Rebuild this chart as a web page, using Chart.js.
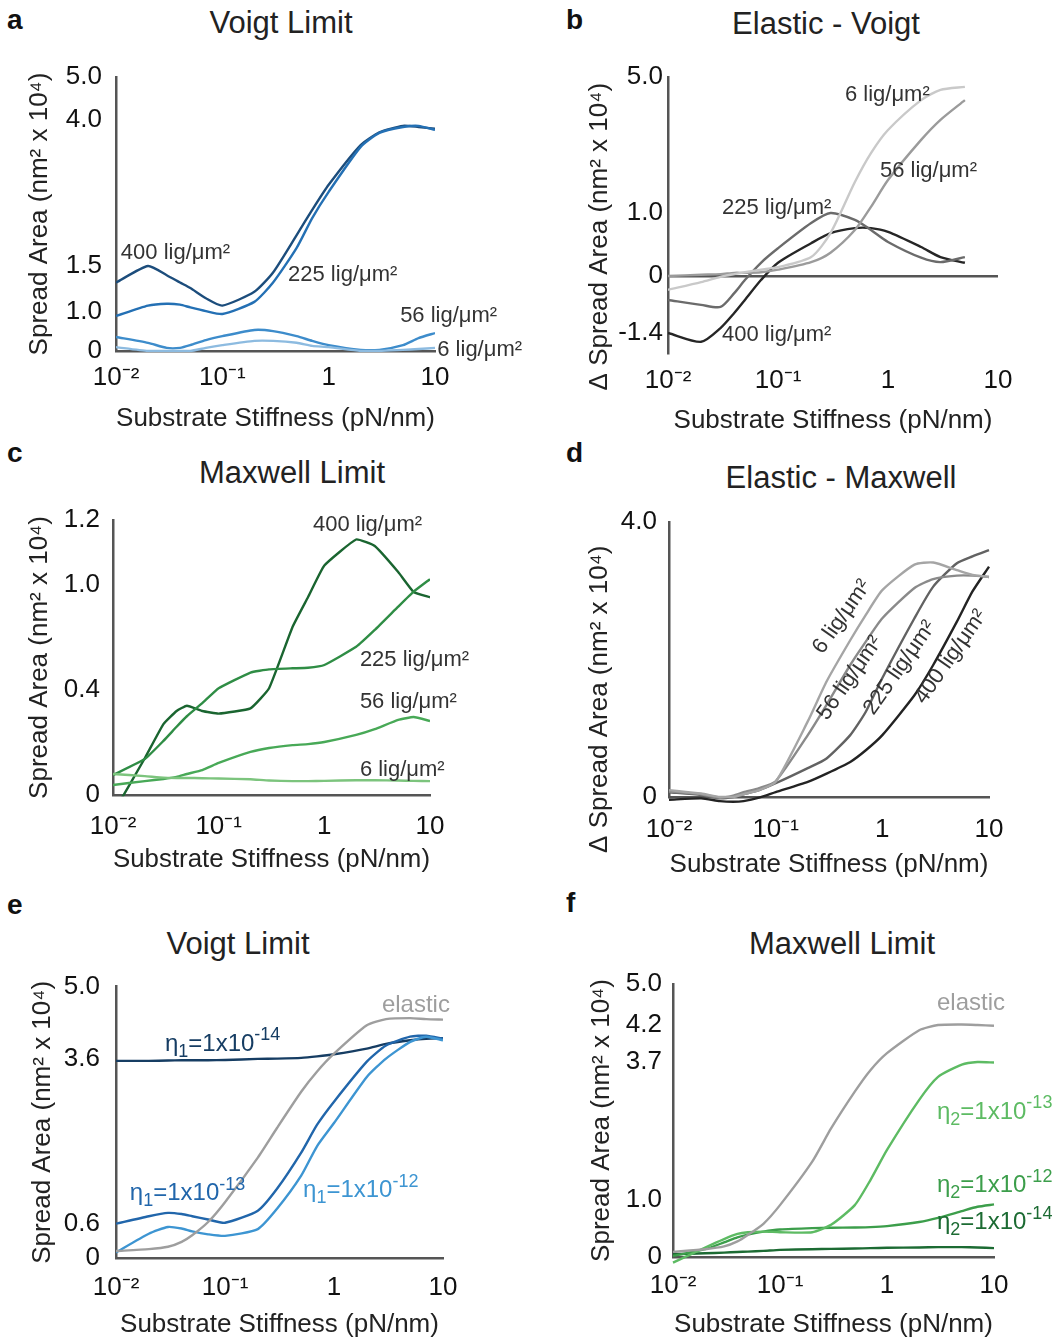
<!DOCTYPE html>
<html><head><meta charset="utf-8">
<script src="https://cdn.jsdelivr.net/npm/chart.js@4.4.1/dist/chart.umd.min.js"></script>
<style>
html,body{margin:0;padding:0;background:#fff;}
#wrap{position:relative;width:1057px;height:1340px;overflow:hidden;font-family:'Liberation Sans',Arial,Helvetica,sans-serif;}
canvas{position:absolute;}
.lt{position:absolute;font-weight:bold;font-size:28px;color:#111;transform:translateY(-50%);line-height:1;}
.tt{position:absolute;font-size:31px;color:#222;transform:translate(-50%,-50%);white-space:nowrap;line-height:1;}
</style></head><body><div id="wrap">
<div class="lt" style="left:7px;top:20px">a</div>
<div class="tt" style="left:281px;top:22px">Voigt Limit</div>
<div class="lt" style="left:566px;top:20px">b</div>
<div class="tt" style="left:826px;top:23px">Elastic - Voigt</div>
<div class="lt" style="left:7px;top:453px">c</div>
<div class="tt" style="left:292px;top:472px">Maxwell Limit</div>
<div class="lt" style="left:566px;top:453px">d</div>
<div class="tt" style="left:841px;top:477px">Elastic - Maxwell</div>
<div class="lt" style="left:7px;top:905px">e</div>
<div class="tt" style="left:238px;top:943px">Voigt Limit</div>
<div class="lt" style="left:566px;top:903px">f</div>
<div class="tt" style="left:842px;top:943px">Maxwell Limit</div>
<canvas id="ca"></canvas><canvas id="cb"></canvas><canvas id="cc"></canvas>
<canvas id="cd"></canvas><canvas id="ce"></canvas><canvas id="cf"></canvas>
</div>
<script>
// ---------------- DATA ----------------
const X = [0.01,0.02,0.03,0.04,0.05,0.07,0.1,0.2,0.3,0.5,0.7,1,2,3,5,7,10];
const X_TICKS = [0.01, 0.1, 1, 10];
const X_TICK_LABELS = ['10⁻²','10⁻¹','1','10'];

// a: Voigt limit, ligand densities
const A_Y_TICKS = [0, 1.0, 1.5, 4.0, 5.0];
const A_400 = [1.32,1.50,1.40,1.32,1.26,1.15,1.07,1.22,1.43,2.03,2.46,2.89,3.57,3.79,3.90,3.88,3.85];
const A_225 = [0.90,1.07,1.09,1.08,1.05,1.01,0.95,1.11,1.32,1.81,2.32,2.77,3.54,3.78,3.88,3.90,3.83];
const A_56  = [0.36,0.21,0.08,0.08,0.15,0.28,0.38,0.54,0.51,0.38,0.26,0.15,0.03,0.03,0.15,0.33,0.46];
const A_6   = [0.10,0.00,0.00,0.00,0.00,0.08,0.15,0.26,0.26,0.21,0.13,0.10,0.00,0.00,0.03,0.05,0.08];

// b: Elastic - Voigt (curves stop at 5 pN/nm)
const B_Y_TICKS = [-1.4, 0, 1.0, 5.0];
const B_6   = [-0.34,-0.15,-0.02,0.03,0.06,0.10,0.14,0.30,0.68,1.91,2.76,3.44,4.32,4.62,4.71];
const B_56  = [0.00,0.02,0.03,0.05,0.05,0.06,0.10,0.22,0.37,0.73,1.18,1.97,3.15,3.74,4.32];
const B_225 = [-0.59,-0.71,-0.76,-0.42,-0.10,0.21,0.44,0.84,1.00,0.89,0.73,0.54,0.29,0.22,0.30];
const B_400 = [-1.40,-1.62,-1.28,-0.91,-0.59,-0.10,0.21,0.52,0.68,0.76,0.76,0.70,0.46,0.30,0.21];

// c: Maxwell limit
const C_Y_TICKS = [0, 0.4, 1.0, 1.2];
const C_400 = [-0.07,0.14,0.27,0.32,0.34,0.32,0.31,0.33,0.41,0.76,0.93,1.06,1.14,1.12,1.04,0.96,0.93];
const C_225 = [0.076,0.137,0.206,0.26,0.30,0.35,0.41,0.50,0.518,0.524,0.527,0.543,0.647,0.743,0.876,0.962,1.018];
const C_56  = [0.038,0.053,0.061,0.069,0.08,0.095,0.122,0.164,0.179,0.19,0.194,0.202,0.229,0.251,0.286,0.297,0.282];
const C_6   = [0.08,0.072,0.066,0.065,0.065,0.064,0.063,0.06,0.055,0.053,0.053,0.054,0.056,0.056,0.055,0.054,0.053];

// d: Elastic - Maxwell
const D_Y_TICKS = [0, 4.0];
const D_6   = [0.10,0.05,0.00,0.00,0.04,0.10,0.22,1.10,1.68,2.28,2.65,3.01,3.38,3.41,3.30,3.23,3.20];
const D_56  = [0.08,0.04,-0.01,0.02,0.07,0.13,0.23,0.90,1.34,1.92,2.26,2.60,3.04,3.17,3.22,3.22,3.20];
const D_225 = [0.07,0.03,-0.02,0.00,0.04,0.10,0.20,0.42,0.56,0.90,1.24,1.73,2.60,3.06,3.40,3.50,3.59];
const D_400 = [-0.04,-0.02,-0.06,-0.07,-0.06,-0.01,0.07,0.22,0.34,0.51,0.68,0.90,1.48,1.92,2.55,2.99,3.35];

// e: Voigt limit, viscosity eta1
const E_Y_TICKS = [0, 0.6, 3.6, 5.0];
const E_ELASTIC = [0.12,0.154,0.194,0.28,0.394,0.624,0.986,1.80,2.34,3.00,3.37,3.70,4.25,4.37,4.39,4.37,4.36];
const E_ETA14 = [3.564,3.564,3.57,3.576,3.576,3.576,3.58,3.60,3.606,3.62,3.649,3.69,3.80,3.89,3.96,3.99,4.00];
const E_ETA13 = [0.594,0.73,0.79,0.77,0.73,0.67,0.61,0.83,1.23,1.89,2.40,2.82,3.55,3.86,4.03,4.05,3.99];
const E_ETA12 = [0.097,0.42,0.537,0.51,0.46,0.41,0.383,0.50,0.865,1.47,2.01,2.43,3.27,3.606,3.93,4.03,3.96];

// f: Maxwell limit, viscosity eta2
const F_Y_TICKS = [0, 1.0, 3.7, 4.2, 5.0];
const F_ELASTIC = [0.089,0.137,0.185,0.274,0.387,0.583,0.91,1.75,2.40,3.12,3.54,3.82,4.13,4.20,4.21,4.20,4.19];
const F_ETA13 = [-0.10,0.167,0.315,0.405,0.435,0.446,0.435,0.435,0.565,0.91,1.39,1.98,2.96,3.41,3.65,3.70,3.69];
const F_ETA12 = [0.018,0.137,0.256,0.345,0.393,0.446,0.482,0.506,0.512,0.518,0.524,0.542,0.613,0.685,0.804,0.881,0.923];
const F_ETA14 = [0.048,0.065,0.077,0.089,0.095,0.107,0.125,0.137,0.143,0.149,0.155,0.161,0.167,0.173,0.173,0.167,0.155];

// ---------------- STYLE / LAYOUT ----------------
const FONT = "'Liberation Sans', Arial, Helvetica, sans-serif";
Chart.defaults.font.family = FONT;
const AXC = '#555';
const TICK_SIZE = 26, TITLE_SIZE = 26;
const LAYOUT = {
  a:{left:0,  top:40,  w:530, h:400, pad:{left:24,top:37,right:95,bottom:6},  yW:92, xH:83, yPad:14, xPad:11},
  b:{left:530,top:40,  w:527, h:400, pad:{left:54,top:37,right:59,bottom:4},  yW:84, xH:83, yPad:5,  xPad:12},
  c:{left:0,  top:480, w:530, h:410, pad:{left:24,top:40,right:100,bottom:15},yW:89, xH:80, yPad:13, xPad:16},
  d:{left:530,top:480, w:527, h:410, pad:{left:54,top:42,right:68,bottom:10}, yW:85, xH:83, yPad:12, xPad:17},
  e:{left:0,  top:955, w:530, h:385, pad:{left:27,top:29,right:87,bottom:0},  yW:89, xH:82, yPad:16, xPad:14},
  f:{left:530,top:955, w:527, h:385, pad:{left:56,top:29,right:63,bottom:0},  yW:87, xH:83, yPad:11, xPad:13}
};

// piecewise-linear value axis (the figure's y axes are not uniformly spaced)
class PiecewiseScale extends Chart.LinearScale {
  determineDataLimits() {
    const b = this.options.breaks;
    this.min = b[0].v; this.max = b[b.length - 1].v;
  }
  buildTicks() { return this.options.tickValues.map(v => ({value: v})); }
  getPixelForValue(value) {
    if (value === null || value === undefined || isNaN(value)) return NaN;
    const b = this.options.breaks;
    let i = 0;
    while (i < b.length - 2 && value > b[i + 1].v) i++;
    const f = b[i].f + (value - b[i].v) / (b[i + 1].v - b[i].v) * (b[i + 1].f - b[i].f);
    return this.getPixelForDecimal(f);
  }
  getValueForPixel(pixel) {
    const f = this.getDecimalForPixel(pixel);
    const b = this.options.breaks;
    let i = 0;
    while (i < b.length - 2 && f > b[i + 1].f) i++;
    return b[i].v + (f - b[i].f) / (b[i + 1].f - b[i].f) * (b[i + 1].v - b[i].v);
  }
}
PiecewiseScale.id = 'piecewise';
PiecewiseScale.defaults = {};
Chart.register(PiecewiseScale);

function drawRich(ctx, text, size, color, align) {
  const parts = []; const re = /([_^])\{([^}]*)\}/g; let last = 0, m;
  while ((m = re.exec(text))) {
    if (m.index > last) parts.push({t: text.slice(last, m.index), k: ''});
    parts.push({t: m[2], k: m[1]}); last = re.lastIndex;
  }
  if (last < text.length) parts.push({t: text.slice(last), k: ''});
  const fnt = k => (k ? Math.round(size * 0.74) : size) + 'px ' + FONT;
  let w = 0;
  parts.forEach(p => { ctx.font = fnt(p.k); p.w = ctx.measureText(p.t).width; w += p.w; });
  let x = align === 'center' ? -w / 2 : 0;
  ctx.fillStyle = color; ctx.textBaseline = 'middle'; ctx.textAlign = 'left';
  parts.forEach(p => {
    ctx.font = fnt(p.k);
    const dy = p.k === '_' ? size * 0.32 : (p.k === '^' ? -size * 0.36 : 0);
    ctx.fillText(p.t, x, dy); x += p.w;
  });
}
const richLabels = {
  id: 'richLabels',
  afterDatasetsDraw(chart, args, opts) {
    const ctx = chart.ctx, xs = chart.scales.x, ys = chart.scales.y;
    (opts.items || []).forEach(it => {
      ctx.save();
      ctx.translate(xs.getPixelForValue(it.x), ys.getPixelForValue(it.y));
      if (it.rot) ctx.rotate(it.rot * Math.PI / 180);
      drawRich(ctx, it.text, opts.size, it.color || '#333', it.align || 'left');
      ctx.restore();
    });
  }
};

const pts = ys => X.map((x, i) => ({x, y: ys[i]})).filter(p => p.y !== undefined && p.y !== null);
const fmtY = v => (v === 0 ? '0' : v.toFixed(1));

function buildPanel(key, o) {
  const L = LAYOUT[key];
  const cv = document.getElementById('c' + key);
  cv.width = L.w; cv.height = L.h;
  cv.style.left = L.left + 'px'; cv.style.top = L.top + 'px';
  new Chart(cv, {
    type: 'line',
    data: {datasets: o.series.map(s => ({
      data: pts(s.y), borderColor: s.color, borderWidth: 2.4, pointRadius: 0,
      tension: o.tension, fill: false, clip: o.clip
    }))},
    options: {
      responsive: false, animation: false, devicePixelRatio: 1,
      layout: {padding: L.pad},
      plugins: {legend: {display: false}, tooltip: {enabled: false},
                richLabels: {items: o.labels, size: o.labelSize}},
      scales: {
        x: {
          type: 'logarithmic', position: 'bottom', min: 0.01, max: 10,
          afterBuildTicks: s => { s.ticks = X_TICKS.map(v => ({value: v})); },
          afterFit: s => { s.height = L.xH; },
          ticks: {autoSkip: false, maxRotation: 0, minRotation: 0, padding: L.xPad, color: '#111',
                  font: {size: TICK_SIZE}, callback: (v, i) => X_TICK_LABELS[i]},
          grid: {display: false, drawTicks: false},
          border: {display: o.xBorder !== false, color: AXC, width: 2.5},
          title: {display: true, text: 'Substrate Stiffness (pN/nm)', color: '#222',
                  font: {size: TITLE_SIZE}, padding: 0}
        },
        y: {
          type: 'piecewise', position: 'left', breaks: o.breaks, tickValues: o.yTicks,
          afterFit: s => { s.width = L.yW; },
          ticks: {padding: L.yPad, color: '#111', font: {size: TICK_SIZE}, callback: v => fmtY(v)},
          grid: o.zeroLine ? {display: true, drawTicks: false, lineWidth: 2.5,
                  color: c => (c.tick && c.tick.value === 0 ? AXC : 'rgba(0,0,0,0)')}
                : {display: false, drawTicks: false},
          border: {display: true, color: AXC, width: 2.5},
          title: {display: true, text: o.yTitle, color: '#222', font: {size: TITLE_SIZE}, padding: 0}
        }
      }
    },
    plugins: [richLabels]
  });
}

const Y_TITLE = 'Spread Area (nm² x 10⁴)';
const DY_TITLE = 'Δ Spread Area (nm² x 10⁴)';

buildPanel('a', {
  series: [{y: A_6, color: '#8dbbe0'}, {y: A_56, color: '#3d8ccb'}, {y: A_225, color: '#2470b4'}, {y: A_400, color: '#1c4d7c'}],
  breaks: [{v:0,f:0},{v:1,f:0.1423},{v:1.5,f:0.3102},{v:4,f:0.8431},{v:5,f:1}],
  yTicks: A_Y_TICKS, yTitle: Y_TITLE, tension: 0.2, labelSize: 22,
  labels: [
    {text: '400 lig/μm²', x: 0.0111, y: 1.72},
    {text: '225 lig/μm²', x: 0.415, y: 1.40},
    {text: '56 lig/μm²', x: 4.7, y: 0.90},
    {text: '6 lig/μm²', x: 10.5, y: 0.03}
  ]
});

buildPanel('b', {
  series: [{y: B_6, color: '#c9c9c9'}, {y: B_56, color: '#9b9b9b'}, {y: B_225, color: '#6b6b6b'}, {y: B_400, color: '#262626'}],
  breaks: [{v:-1.9,f:0},{v:-1.4,f:0.0725},{v:0,f:0.279},{v:1,f:0.5072},{v:5,f:1}],
  yTicks: B_Y_TICKS, yTitle: DY_TITLE + '      ', tension: 0.25, labelSize: 22,
  zeroLine: true, xBorder: false,
  labels: [
    {text: '6 lig/μm²', x: 0.406, y: 4.47},
    {text: '56 lig/μm²', x: 0.845, y: 2.24},
    {text: '225 lig/μm²', x: 0.031, y: 1.15},
    {text: '400 lig/μm²', x: 0.031, y: -1.45}
  ]
});

buildPanel('c', {
  series: [{y: C_6, color: '#7cc47d'}, {y: C_56, color: '#48a957'}, {y: C_225, color: '#2f8d45'}, {y: C_400, color: '#1a6530'}],
  breaks: [{v:0,f:0},{v:0.4,f:0.3818},{v:1,f:0.7636},{v:1.2,f:1}],
  yTicks: C_Y_TICKS, yTitle: Y_TITLE, tension: 0.12, labelSize: 22,
  labels: [
    {text: '400 lig/μm²', x: 0.78, y: 1.185},
    {text: '225 lig/μm²', x: 2.17, y: 0.571},
    {text: '56 lig/μm²', x: 2.17, y: 0.354},
    {text: '6 lig/μm²', x: 2.17, y: 0.095}
  ]
});

buildPanel('d', {
  series: [{y: D_6, color: '#a5a5a5'}, {y: D_56, color: '#8a8a8a'}, {y: D_225, color: '#626262'}, {y: D_400, color: '#232323'}],
  breaks: [{v:0,f:0},{v:4,f:1}],
  yTicks: D_Y_TICKS, yTitle: DY_TITLE + '           ', tension: 0.2, labelSize: 22, clip: false,
  labels: [
    {text: '6 lig/μm²', x: 0.418, y: 2.62, rot: -55, align: 'center'},
    {text: '56 lig/μm²', x: 0.497, y: 1.73, rot: -55, align: 'center'},
    {text: '225 lig/μm²', x: 1.46, y: 1.88, rot: -55, align: 'center'},
    {text: '400 lig/μm²', x: 4.39, y: 2.04, rot: -55, align: 'center'}
  ]
});

buildPanel('e', {
  series: [{y: E_ELASTIC, color: '#9e9e9e'}, {y: E_ETA12, color: '#3d95d2'}, {y: E_ETA13, color: '#2166ab'}, {y: E_ETA14, color: '#163d63'}],
  breaks: [{v:0,f:0},{v:0.6,f:0.1277},{v:3.6,f:0.7336},{v:5,f:1}],
  yTicks: E_Y_TICKS, yTitle: Y_TITLE, tension: 0.2, labelSize: 24,
  labels: [
    {text: 'elastic', x: 2.75, y: 4.64, color: '#9e9e9e'},
    {text: 'η_{1}=1x10^{-14}', x: 0.0281, y: 3.89, color: '#163d63'},
    {text: 'η_{1}=1x10^{-13}', x: 0.0134, y: 1.14, color: '#2166ab'},
    {text: 'η_{1}=1x10^{-12}', x: 0.52, y: 1.20, color: '#3d95d2'}
  ]
});

buildPanel('f', {
  series: [{y: F_ELASTIC, color: '#9e9e9e'}, {y: F_ETA13, color: '#5dbb63'}, {y: F_ETA12, color: '#3c9e4b'}, {y: F_ETA14, color: '#1c6b33'}],
  breaks: [{v:0,f:0},{v:1,f:0.2088},{v:3.7,f:0.7143},{v:4.2,f:0.8498},{v:5,f:1}],
  yTicks: F_Y_TICKS, yTitle: Y_TITLE, tension: 0.2, labelSize: 24, clip: false,
  labels: [
    {text: 'elastic', x: 2.93, y: 4.63, color: '#9e9e9e'},
    {text: 'η_{2}=1x10^{-13}', x: 2.93, y: 2.72, color: '#5dbb63'},
    {text: 'η_{2}=1x10^{-12}', x: 2.93, y: 1.29, color: '#3c9e4b'},
    {text: 'η_{2}=1x10^{-14}', x: 2.93, y: 0.61, color: '#1c6b33'}
  ]
});
</script></body></html>
